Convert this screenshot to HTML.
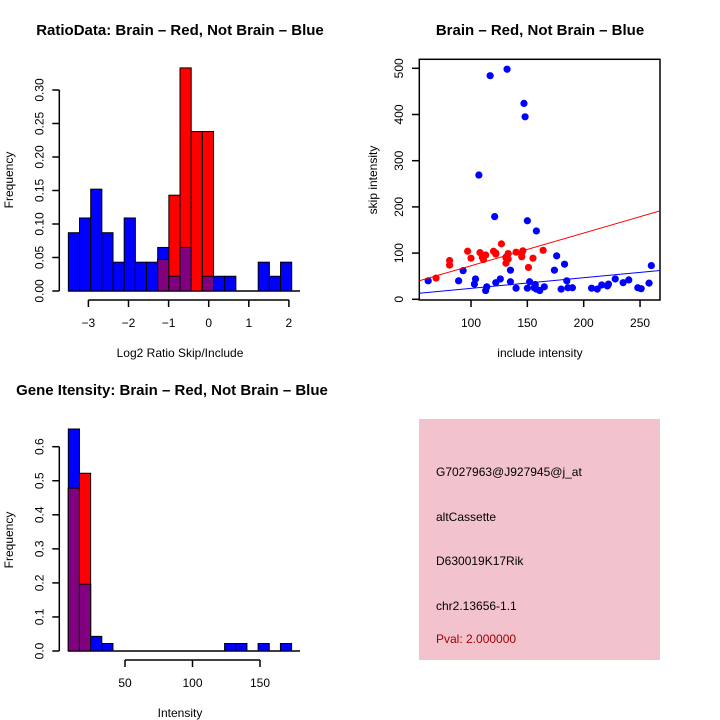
<!DOCTYPE html>
<html><head><meta charset="utf-8"><style>
html,body{margin:0;padding:0;background:#fff;}
svg{display:block;font-family:"Liberation Sans",sans-serif;}
</style></head><body>
<svg id="s" width="720" height="720" viewBox="0 0 720 720">
<rect x="0" y="0" width="720" height="720" fill="#fff"/>
<text x="180" y="35" text-anchor="middle" font-size="15" font-weight="bold">RatioData: Brain – Red, Not Brain – Blue</text>
<text x="540" y="35" text-anchor="middle" font-size="15" font-weight="bold">Brain – Red, Not Brain – Blue</text>
<text x="172" y="395" text-anchor="middle" font-size="15" font-weight="bold">Gene Itensity: Brain – Red, Not Brain – Blue</text>
<text x="180" y="357" text-anchor="middle" font-size="12">Log2 Ratio Skip/Include</text>
<text transform="translate(13,180) rotate(-90)" text-anchor="middle" font-size="12">Frequency</text>
<text x="540" y="357" text-anchor="middle" font-size="12">include intensity</text>
<text transform="translate(377,180) rotate(-90)" text-anchor="middle" font-size="12">skip intensity</text>
<text x="180" y="717" text-anchor="middle" font-size="12">Intensity</text>
<text transform="translate(13,540) rotate(-90)" text-anchor="middle" font-size="12">Frequency</text>
<g>
<rect x="419" y="419" width="241" height="241" fill="#f2c2cd"/>
<text x="436" y="476" font-size="12">G7027963@J927945@j_at</text>
<text x="436" y="521" font-size="12">altCassette</text>
<text x="436" y="565" font-size="12">D630019K17Rik</text>
<text x="436" y="610" font-size="12">chr2.13656-1.1</text>
<text x="436" y="643" font-size="12" fill="#a00000">Pval: 2.000000</text>
</g>
</svg>
<script>
// ---- Ratio histogram data ----
const ratioBinStart = -3.5;
const ratioBinWidth = 0.2785;
const ratioBlue = [0.087,0.109,0.152,0.087,0.043,0.109,0.043,0.043,0.065,0.022,0.065,0,0.022,0.022,0.022,0,0,0.043,0.022,0.043];
const ratioRed  = [0,0,0,0,0,0,0,0,0.047,0.143,0.333,0.238,0.238,0,0,0,0,0,0,0];
const ratioYTicks = ["0.00","0.05","0.10","0.15","0.20","0.25","0.30"];
const ratioXTicks = ["-3","-2","-1","0","1","2"];
// ---- Scatter data ----
const redX = [69,81,81,97,100,108,110,113,120,122,127,131,133,140,145,146,151,155,164,131,133,111,145,122];
const redY = [46,84,74,104,89,101,91,96,104,98,120,78,87,102,92,105,69,89,106,90,99,86,100,100];
const blueX = [62,89,93,103,104,107,113,114,117,121,122,126,132,131,135,135,140,147,148,150,150,152,157,158,161,165,174,176,180,183,185,186,190,207,212,216,221,222,228,235,240,248,251,258,260,156,158];
const blueY = [40,40,62,33,44,269,19,27,484,179,36,44,498,91,63,38,24,424,395,170,24,38,32,148,19,27,63,94,22,76,40,25,25,24,22,31,29,33,44,36,42,25,23,35,73,25,22];
const redFit = [1.8,0.708];
const blueFit = [0.5,0.231];
const scatterXTicks = ["100","150","200","250"];
const scatterYTicks = ["0","100","200","300","400","500"];
// ---- Intensity histogram data ----
const intBinStart = 8;
const intBinWidth = 8.27;
const intBlue = [0.652,0.196,0.043,0.022,0,0,0,0,0,0,0,0,0,0,0.022,0.022,0,0.022,0,0.022];
const intRed  = [0.478,0.522,0,0,0,0,0,0,0,0,0,0,0,0,0,0,0,0,0,0];
const intYTicks = ["0.0","0.1","0.2","0.3","0.4","0.5","0.6"];
const intXTicks = ["50","100","150"];

const svg = document.getElementById('s');
const NS = 'http://www.w3.org/2000/svg';
function mk(tag, a){const e=document.createElementNS(NS,tag);for(const k in a)e.setAttribute(k,a[k]);svg.appendChild(e);return e;}

function hist(blue, red, bs, bw, sx, sy, yTicks, xTicks, yTickX, xAxisY, baseEnd, prefix){
  const base = sy(0);
  mk('line',{x1:sx(bs),y1:base,x2:baseEnd,y2:base,stroke:'#000','stroke-width':1.5});
  for(let i=0;i<blue.length;i++){
    const x0=sx(bs+i*bw), x1=sx(bs+(i+1)*bw);
    const b=blue[i], r=red[i];
    if(b>0){const e=mk('rect',{x:x0,y:sy(b),width:x1-x0,height:base-sy(b),fill:'#0000ff',stroke:'#000','stroke-width':1});
      
      }
    if(r>0){const e=mk('rect',{x:x0,y:sy(r),width:x1-x0,height:base-sy(r),fill:'#ff0000',stroke:'#000','stroke-width':1});
      
      }
    const m=Math.min(b,r);
    if(m>0){const e=mk('rect',{x:x0,y:sy(m),width:x1-x0,height:base-sy(m),fill:'#800080',stroke:'#000','stroke-width':1});
      
      }
  }
  const yv=yTicks.map(Number);
  mk('line',{x1:yTickX,y1:sy(yv[0]),x2:yTickX,y2:sy(yv[yv.length-1]),stroke:'#000','stroke-width':1.5});
  yTicks.forEach(t=>{const y=sy(+t);
    mk('line',{x1:yTickX-7,y1:y,x2:yTickX,y2:y,stroke:'#000','stroke-width':1.5});
    const e=mk('text',{transform:`translate(${yTickX-16},${y}) rotate(-90)`,'text-anchor':'middle','font-size':12});
    e.textContent=t;
    
    });
  const xv=xTicks.map(Number);
  mk('line',{x1:sx(xv[0]),y1:xAxisY,x2:sx(xv[xv.length-1]),y2:xAxisY,stroke:'#000','stroke-width':1.5});
  xTicks.forEach(t=>{const x=sx(+t);
    mk('line',{x1:x,y1:xAxisY,x2:x,y2:xAxisY+7,stroke:'#000','stroke-width':1.5});
    const e=mk('text',{x:x,y:xAxisY+27,'text-anchor':'middle','font-size':12});
    e.textContent=t.replace('-','−');
    
    });
}

hist(ratioBlue, ratioRed, ratioBinStart, ratioBinWidth,
  v=>208.7+v*40.1, v=>291-v*670, ratioYTicks, ratioXTicks, 59.3, 300, 300, 'ratio');
hist(intBlue, intRed, intBinStart, intBinWidth,
  v=>57.5+v*1.35, v=>651-v*340.5, intYTicks, intXTicks, 59.3, 660, 300, 'intensity');

const scX=v=>358.3+v*1.127, scY=v=>299.3-v*0.462;
mk('rect',{x:419.3,y:59.3,width:240.7,height:240.7,fill:'none',stroke:'#000','stroke-width':1.5});
scatterXTicks.forEach(t=>{const x=scX(+t);
  mk('line',{x1:x,y1:300,x2:x,y2:307,stroke:'#000','stroke-width':1.5});
  const e=mk('text',{x:x,y:327,'text-anchor':'middle','font-size':12});
  e.textContent=t;
  
  });
scatterYTicks.forEach(t=>{const y=scY(+t);
  mk('line',{x1:412,y1:y,x2:419.3,y2:y,stroke:'#000','stroke-width':1.5});
  const e=mk('text',{transform:`translate(403,${y}) rotate(-90)`,'text-anchor':'middle','font-size':12});
  e.textContent=t;
  
  });
const cp=mk('clipPath',{id:'cp'});
const cr=document.createElementNS(NS,'rect');cr.setAttribute('x',419.3);cr.setAttribute('y',59.3);cr.setAttribute('width',240.7);cr.setAttribute('height',240.7);cp.appendChild(cr);
for(let i=0;i<blueX.length;i++){const e=mk('circle',{cx:scX(blueX[i]),cy:scY(blueY[i]),r:3.6,fill:'#0000ff'});
  
  }
for(let i=0;i<redX.length;i++){const e=mk('circle',{cx:scX(redX[i]),cy:scY(redY[i]),r:3.6,fill:'#ff0000'});
  
  }
const xa=(419.3-358.3)/1.127, xb=(660-358.3)/1.127;
const l1=mk('line',{x1:scX(xa),y1:scY(redFit[0]+redFit[1]*xa),x2:scX(xb),y2:scY(redFit[0]+redFit[1]*xb),stroke:'#ff0000','stroke-width':1,'clip-path':'url(#cp)'});


const l2=mk('line',{x1:scX(xa),y1:scY(blueFit[0]+blueFit[1]*xa),x2:scX(xb),y2:scY(blueFit[0]+blueFit[1]*xb),stroke:'#0000ff','stroke-width':1,'clip-path':'url(#cp)'});


</script>
</body></html>
